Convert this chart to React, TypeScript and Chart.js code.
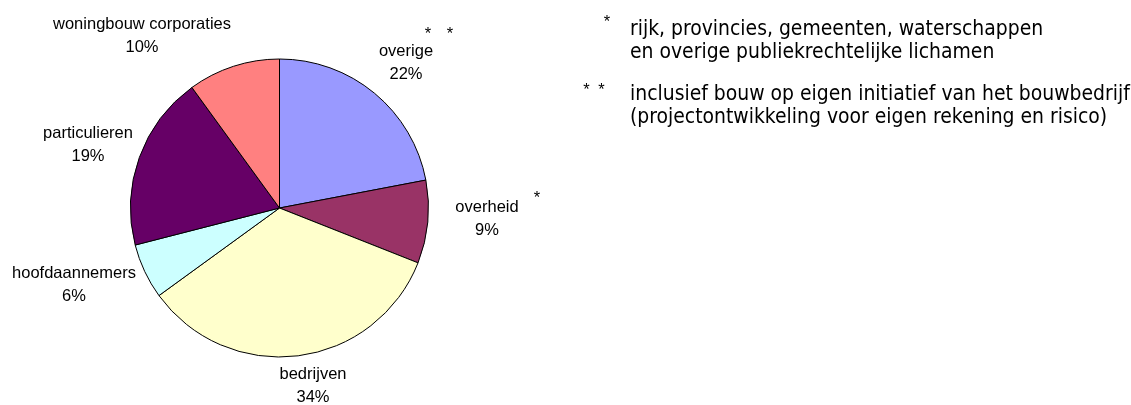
import React, { useEffect, useRef } from "react";
import { Chart, registerables } from "chart.js";

Chart.register(...registerables);

// ---- data ----
const categories = [
  "overige",
  "overheid",
  "bedrijven",
  "hoofdaannemers",
  "particulieren",
  "woningbouw corporaties",
];
const shares = [22, 9, 34, 6, 19, 10];
const labelMarks = ["* *", "*", "", "", "", ""];
const footnoteMarks = ["*", "* *"];
const footnoteLines = [
  ["rijk, provincies, gemeenten, waterschappen", "en overige publiekrechtelijke lichamen"],
  [
    "inclusief bouw op eigen initiatief van het bouwbedrijf",
    "(projectontwikkeling voor eigen rekening en risico)",
  ],
];

// ---- styles / layout ----
const sliceColors = ["#9999FF", "#993366", "#FFFFCC", "#CCFFFF", "#660066", "#FF8080"];
// label block centre relative to pie centre
const labelOffsets = [
  [126.5, -145.5],
  [207.5, 10.5],
  [33.5, 178],
  [-205.5, 77],
  [-191.5, -63],
  [-137.5, -172.5],
];
// footnote-mark position relative to label block centre (left x, baseline y)
const markOffsets = [
  [18.8, -24],
  [46.8, -16],
  [0, 0],
  [0, 0],
  [0, 0],
  [0, 0],
];
const LABEL_FONT = '16.5px "Liberation Sans", Arial, sans-serif';
const MARK_FONT = '16.5px "Liberation Sans", Arial, sans-serif';
const NOTE_FAMILY = '"DejaVu Sans Condensed", "DejaVu Sans", Verdana, sans-serif';
const NOTE_TARGET_WIDTH = 500; // width of the longest footnote line in the reference
const NOTE_TEXT_X = 630;
const NOTE_BASELINES = [35, 100];
const NOTE_LINE_GAP = 22.5;
const NOTE_MARK_POS = [
  [603.8, 26.5],
  [583.3, 94.5],
];

const labelPlugin = {
  id: "pieLabels",
  afterDraw(chart: any) {
    const ctx: any = chart.ctx;
    const meta = chart.getDatasetMeta(0);
    const arc = meta.data[0];
    if (!arc) return;
    const cx = arc.x;
    const cy = arc.y;
    ctx.save();
    ctx.fillStyle = "#000";

    // note font size fitted to reference width
    ctx.font = `21px ${NOTE_FAMILY}`;
    const w = ctx.measureText(footnoteLines[1][0]).width;
    const noteSize = w > 0 ? (21 * NOTE_TARGET_WIDTH) / w : 21;
    const noteFont = `${noteSize.toFixed(2)}px ${NOTE_FAMILY}`;

    categories.forEach((name, i) => {
      const lx = cx + labelOffsets[i][0];
      const ly = cy + labelOffsets[i][1];
      ctx.font = LABEL_FONT;
      ctx.textAlign = "center";
      ctx.textBaseline = "middle";
      ctx.fillText(name, lx, ly - 11.5);
      ctx.fillText(shares[i] + "%", lx, ly + 11.5);
      if (labelMarks[i]) {
        ctx.font = MARK_FONT;
        ctx.wordSpacing = "11px";
        ctx.textAlign = "left";
        ctx.textBaseline = "alphabetic";
        ctx.fillText(labelMarks[i], lx + markOffsets[i][0], ly + markOffsets[i][1]);
        ctx.wordSpacing = "0px";
      }
    });

    // footnotes
    ctx.textBaseline = "alphabetic";
    ctx.textAlign = "left";
    footnoteLines.forEach((lines, k) => {
      ctx.font = MARK_FONT;
      ctx.wordSpacing = "4px";
      ctx.fillText(footnoteMarks[k], NOTE_MARK_POS[k][0], NOTE_MARK_POS[k][1]);
      ctx.wordSpacing = "0px";
      ctx.font = noteFont;
      lines.forEach((line, j) => {
        ctx.fillText(line, NOTE_TEXT_X, NOTE_BASELINES[k] + j * NOTE_LINE_GAP);
      });
    });
    ctx.restore();
  },
};

export default function App() {
  const canvasRef = useRef<HTMLCanvasElement | null>(null);

  useEffect(() => {
    const canvas = canvasRef.current;
    if (!canvas) return;
    const chart = new Chart(canvas, {
      type: "pie",
      data: {
        labels: categories,
        datasets: [
          {
            data: shares,
            backgroundColor: sliceColors,
            borderColor: "#000000",
            borderWidth: 1,
            hoverOffset: 0,
          },
        ],
      },
      options: {
        responsive: false,
        animation: false,
        radius: 149,
        layout: { padding: { left: 0, right: 572, top: 11, bottom: 0 } },
        plugins: {
          legend: { display: false },
          tooltip: { enabled: false },
        },
      } as any,
      plugins: [labelPlugin],
    });
    return () => chart.destroy();
  }, []);

  return (
    <div
      style={{
        position: "absolute",
        left: 0,
        top: 0,
        width: 1131,
        height: 405,
        background: "#ffffff",
      }}
    >
      <canvas ref={canvasRef} width={1131} height={405} />
    </div>
  );
}
